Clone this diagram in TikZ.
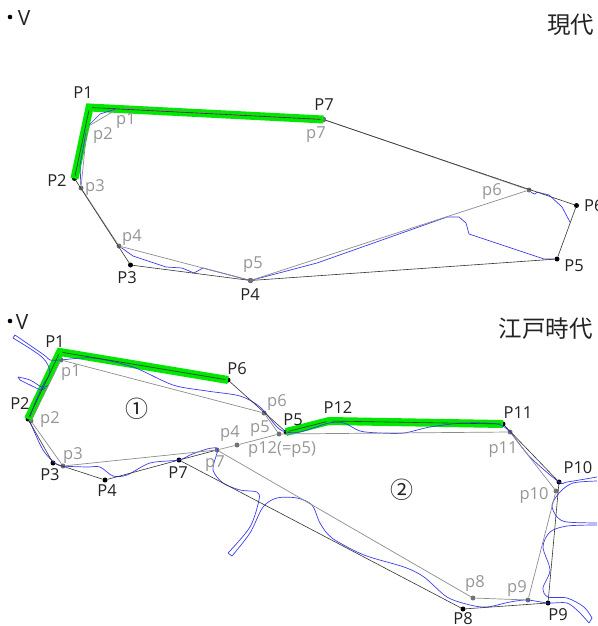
\documentclass[tikz,border=0pt]{standalone}
\usepackage{fontspec}
\setmainfont{Open Sans}
\newfontfamily\cjkfont{Noto Sans CJK JP}
\usepackage{xcolor}
\definecolor{routegreen}{RGB}{0,232,0}
\definecolor{riverblue}{RGB}{60,60,240}
\definecolor{labelgray}{RGB}{150,150,150}
\definecolor{labelblack}{RGB}{35,35,35}
\begin{document}
\begin{tikzpicture}[x=1pt, y=-1pt]

\tikzstyle{dotblack} = [circle, fill=black, inner sep=0pt, minimum size=5pt];
\tikzstyle{dotgray} = [circle, fill=black!55, inner sep=0pt, minimum size=5pt];
\tikzstyle{dotplain} = [circle, fill=black, inner sep=0pt, minimum size=4.6pt];
\tikzstyle{bigP} = [font=\fontsize{16.5}{18}\selectfont, text=labelblack, inner sep=0pt];
\tikzstyle{smallp} = [font=\fontsize{16.5}{18}\selectfont, text=labelgray, inner sep=0pt];
\tikzstyle{title} = [font=\cjkfont\fontsize{23.5}{25}\selectfont, text=labelblack, inner sep=0pt];
\tikzstyle{region} = [font=\cjkfont\fontsize{23}{24}\selectfont, text=labelblack, inner sep=0pt];
\tikzstyle{headV} = [font=\fontsize{21}{23}\selectfont, text=labelblack, inner sep=0pt];
\tikzstyle{route} = [line width=8pt, draw=routegreen, line join=miter];
\tikzstyle{outer} = [draw=black!80, line width=0.6pt];
\tikzstyle{inner} = [draw=black!45, line width=0.7pt];
\tikzstyle{river} = [draw=riverblue, line width=0.7pt];

\useasboundingbox (0,0) rectangle (597,626);

% Top - vertices
\node (tP1) [dotblack] at (89.5,107.5) {};
\node (tP2) [dotblack] at (74.5,178.5) {};
\node (tP3) [dotblack] at (130.5,265) {};
\node (tP4) [dotblack] at (250.5,280.5) {};
\node (tP5) [dotblack] at (557,259) {};
\node (tP6) [dotblack] at (576.5,205.5) {};
\node (tP7) [dotblack] at (323.5,119.5) {};
\node (tp1) [dotgray] at (119,108) {};
\node (tp2) [dotgray] at (87,127) {};
\node (tp3) [dotgray] at (81,188) {};
\node (tp4) [dotgray] at (119,246) {};
\node (tp5) [dotgray] at (250.5,280.5) {};
\node (tp6) [dotgray] at (529,190) {};
\node (tp7) [dotgray] at (323.5,119.5) {};

% Bottom - vertices
\node (bP1) [dotblack] at (60,352) {};
\node (bP2) [dotblack] at (28,419) {};
\node (bP3) [dotblack] at (53,463) {};
\node (bP4) [dotblack] at (105,480) {};
\node (bP5) [dotblack] at (286,432) {};
\node (bP6) [dotblack] at (228,380) {};
\node (bP7) [dotblack] at (179,460) {};
\node (bP8) [dotblack] at (463,609) {};
\node (bP9) [dotblack] at (548,603) {};
\node (bP10) [dotblack] at (559,482) {};
\node (bP11) [dotblack] at (503,424) {};
\node (bP12) [dotblack] at (329,421) {};
\node (bp1) [dotgray] at (61,360) {};
\node (bp2) [dotgray] at (31,421) {};
\node (bp3) [dotgray] at (63,466) {};
\node (bp4) [dotgray] at (237,445) {};
\node (bp5) [dotgray] at (279,434) {};
\node (bp6) [dotgray] at (264,413) {};
\node (bp7) [dotgray] at (217,450) {};
\node (bp8) [dotgray] at (473,598) {};
\node (bp9) [dotgray] at (528,600) {};
\node (bp10) [dotgray] at (556,491) {};
\node (bp11) [dotgray] at (510,432) {};

% Green routes
\draw[route] (tP2.center) -- (tP1.center) -- (tP7.center);
\draw[route] (bP2.center) -- (bP1.center) -- (bP6.center);
\draw[route] (bP5.center) -- (bP12.center) -- (bP11.center);

% Top - rivers
\draw[river] (tp1) -- (100,114) -- (tp2) -- (80,165) -- (tp3);
\draw[river] (tp4) -- (133,256) -- (166,267) -- (182,268) -- (194,273) -- (203,268) -- (tP4) -- (317,263) -- (447,217) -- (459,217) -- (466,223) -- (469,234) -- (544,259) -- (tP5);
\draw[river] (570,222) -- (562,207) -- (549,195) -- (537,192) -- (535,194) -- (532,193) -- (tp6);

% Bottom - rivers
\draw[river] plot[smooth] coordinates {(13,338) (42,357) (50,372) (43,385) (35,403) (30,417)};
\draw[river] plot[smooth] coordinates {(15,335) (44,355) (50,360) (60,360) (93,358) (133,367) (173,385) (207,391) (240,396) (260,407) (277,427) (286,432) (300,432) (329,423) (344,423) (360,431) (380,433) (404,433) (430,427) (464,423) (497,424) (510,432) (530,457) (559,482) (567,482) (597,477)};
\draw[river] (13,338) -- (15,335);
\draw[river] plot[smooth] coordinates {(18,377) (30,380) (42,387) (49,385)};
\draw[river] plot[smooth] coordinates {(20,380) (30,385) (41,390) (45,388)};
\draw[river] (18,377) -- (20,380);
\draw[river] plot[smooth] coordinates {(30,422) (43,450) (55,463) (63,466) (87,467) (100,467) (113,476) (127,475) (150,463) (179,460) (190,455) (207,449) (217,448) (217,453) (213,470) (223,483) (240,490) (257,492) (259,500) (250,527) (228,553)};
\draw[river] (228,553) -- (232,556);
\draw[river] plot[smooth] coordinates {(232,556) (250,533) (263,507) (277,498) (297,498) (312,505) (320,523) (332,538) (364,555) (404,567) (424,577) (447,597) (470,605) (487,607) (510,602) (527,600) (548,603) (567,603) (579,612) (589,623)};
\draw[river] (589,623) -- (592,618);
\draw[river] plot[smooth] coordinates {(592,618) (584,607) (567,598) (548,597) (543,588) (550,570) (543,547) (550,532) (567,526) (597,525)};
\draw[river] plot[smooth] coordinates {(597,481) (573,483) (560,492) (552,505) (557,517) (567,522) (597,523)};

% Outlines
\draw[inner] (tp1) -- (tp2) -- (tp3) -- (tp4) -- (tp5) -- (tp6) -- (tp7) -- (tp1);
\draw[outer] (tP1) -- (tP2) -- (tP3) -- (tP4) -- (tP5) -- (tP6) -- (tP7) -- (tP1);
\draw[inner] (bp1) -- (bp2) -- (bp3) -- (bp7) -- (bp4) -- (bp5) -- (bp6) -- (bp1);
\draw[inner] (bp5) -- (bp11) -- (bp10) -- (bp9) -- (bp8) -- (bp7);
\draw[outer] (bP1) -- (bP2) -- (bP3) -- (bP4) -- (bP7) -- (bp7);
\draw[outer] (bP5) -- (bP6) -- (bP1);
\draw[outer] (bP5) -- (bP12) -- (bP11) -- (bP10) -- (bP9) -- (bP8) -- (bP7);

% Top - labels
\node (tdot) [dotplain] at (10,17) {};
\node (tV) [headV] at (24,18) {V};
\node (ttitle) [title] at (570.5,25) {現代};
\node (ltP1) [bigP] at (83,93) {P1};
\node (ltP2) [bigP] at (57,181) {P2};
\node (ltP3) [bigP] at (127,278) {P3};
\node (ltP4) [bigP] at (250,295) {P4};
\node (ltP5) [bigP] at (574,266) {P5};
\node (ltP6) [bigP, anchor=west] at (584,206) {P6};
\node (ltP7) [bigP] at (324,105) {P7};
\node (ltp1) [smallp] at (126,121) {p1};
\node (ltp2) [smallp] at (103,136) {p2};
\node (ltp3) [smallp] at (95,188) {p3};
\node (ltp4) [smallp] at (132,238) {p4};
\node (ltp5) [smallp] at (253,265) {p5};
\node (ltp6) [smallp] at (492,192) {p6};
\node (ltp7) [smallp] at (316,135) {p7};

% Bottom - labels
\node (bdot) [dotplain] at (10,321) {};
\node (bV) [headV] at (22,322) {V};
\node (btitle) [title] at (545.5,329) {江戸時代};
\node (regionA) [region] at (137,409) {①};
\node (regionB) [region] at (402,490) {②};
\node (lbP1) [bigP] at (55,342) {P1};
\node (lbP2) [bigP] at (20,404) {P2};
\node (lbP3) [bigP] at (50,475) {P3};
\node (lbP4) [bigP] at (107,491) {P4};
\node (lbP5) [bigP] at (293,420) {P5};
\node (lbP6) [bigP] at (237,369) {P6};
\node (lbP7) [bigP] at (178,473) {P7};
\node (lbP8) [bigP] at (463,618.5) {P8};
\node (lbP9) [bigP] at (558,615) {P9};
\node (lbP10) [bigP] at (578,468) {P10};
\node (lbP11) [bigP] at (518,413) {P11};
\node (lbP12) [bigP] at (338,408) {P12};
\node (lbp1) [smallp] at (71,373) {p1};
\node (lbp2) [smallp] at (50,420) {p2};
\node (lbp3) [smallp] at (73,456) {p3};
\node (lbp4) [smallp] at (230,434) {p4};
\node (lbp5) [smallp] at (260,429) {p5};
\node (lbp6) [smallp] at (277,403) {p6};
\node (lbp7) [smallp] at (215,464) {p7};
\node (lbp8) [smallp] at (475,584) {p8};
\node (lbp9) [smallp] at (517,589) {p9};
\node (lbp10) [smallp] at (534,495) {p10};
\node (lbp11) [smallp] at (503,450) {p11};
\node (lbp12) [smallp] at (282,450) {p12(=p5)};

\end{tikzpicture}
\end{document}
